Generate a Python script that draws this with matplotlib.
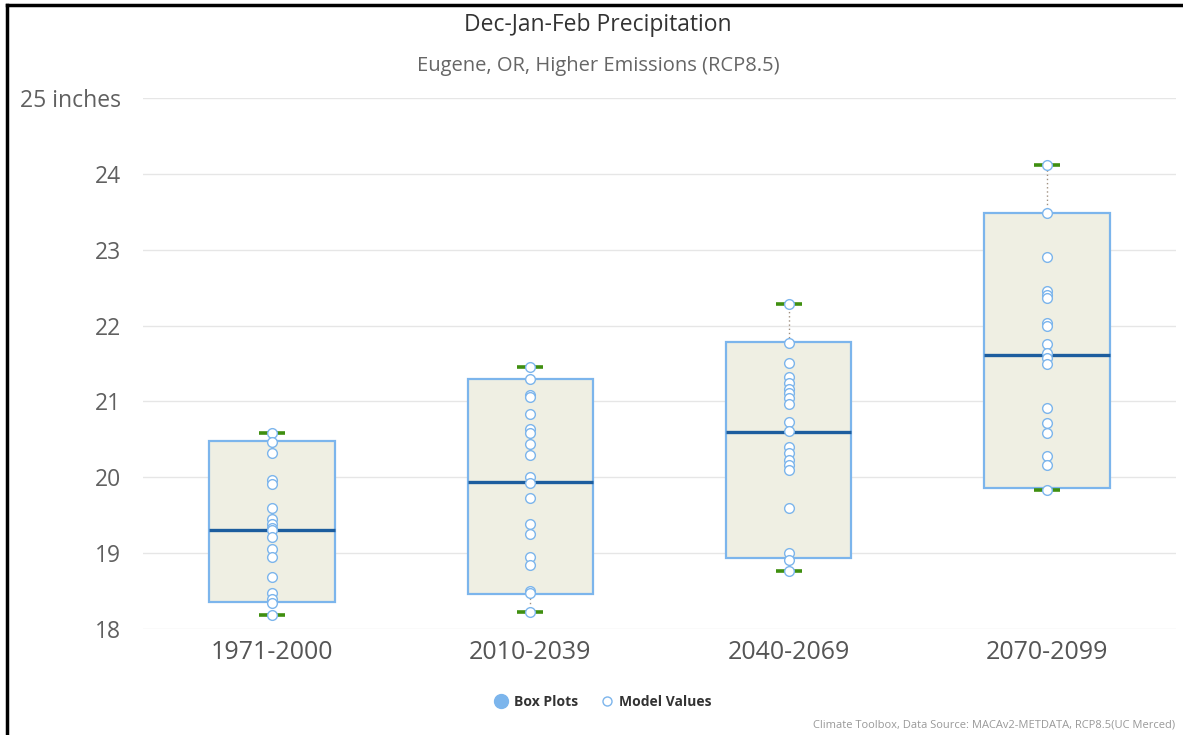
import matplotlib
matplotlib.use("Agg")
import matplotlib.pyplot as plt
from matplotlib.lines import Line2D

plt.rcParams['font.family'] = ['Open Sans', 'DejaVu Sans']

# data (inches)
periods = ['1971-2000', '2010-2039', '2040-2069', '2070-2099']
whisk_low = [18.18, 18.22, 18.76, 19.83]
box_low = [18.36, 18.46, 18.93, 19.86]
medians = [19.31, 19.94, 20.60, 21.61]
box_high = [20.48, 21.29, 21.78, 23.49]
whisk_high = [20.58, 21.45, 22.29, 24.12]

models_1971 = [20.58, 20.46, 20.32, 19.96, 19.91, 19.59, 19.45, 19.38, 19.33, 19.31,
               19.21, 19.06, 18.95, 18.69, 18.48, 18.40, 18.34, 18.18]
models_2010 = [21.45, 21.30, 21.09, 21.06, 20.84, 20.64, 20.58, 20.44, 20.29, 20.00,
               19.92, 19.73, 19.39, 19.25, 18.95, 18.85, 18.50, 18.47, 18.22]
models_2040 = [22.29, 21.77, 21.51, 21.32, 21.24, 21.16, 21.11, 21.04, 20.96, 20.73,
               20.61, 20.40, 20.32, 20.23, 20.16, 20.10, 19.60, 19.00, 18.91, 18.76]
models_2070 = [24.12, 23.49, 22.91, 22.45, 22.40, 22.36, 22.03, 22.00, 21.76, 21.64,
               21.57, 21.49, 20.91, 20.72, 20.59, 20.28, 20.16, 19.83]
model_values = [models_1971, models_2010, models_2040, models_2070]

yticks = [18, 19, 20, 21, 22, 23, 24, 25]
ytick_labels = ['18', '19', '20', '21', '22', '23', '24', '25 inches']

box_color = '#7cb5ec'

fig = plt.figure(figsize=(11.83, 7.35), dpi=100)
ax = fig.add_axes([143 / 1183, 1 - 629 / 735, (1176 - 143) / 1183, (629 - 98) / 735])

stats = []
for i in range(len(periods)):
    stats.append({'whislo': whisk_low[i], 'q1': box_low[i], 'med': medians[i],
                  'q3': box_high[i], 'whishi': whisk_high[i], 'fliers': []})

ax.bxp(stats, positions=range(len(periods)), widths=0.485, capwidths=0.1,
       patch_artist=True, showfliers=False,
       boxprops=dict(facecolor='#efefe3', edgecolor=box_color, linewidth=1.6),
       medianprops=dict(color='#1c5d9e', linewidth=2.4, solid_capstyle='butt'),
       whiskerprops=dict(color='#a09080', linewidth=1, linestyle=(0, (1, 2))),
       capprops=dict(color='#3f8f10', linewidth=2.6, solid_capstyle='butt'),
       zorder=2)

for i, vals in enumerate(model_values):
    ax.plot([i] * len(vals), vals, 'o', markersize=7, markerfacecolor='white',
            markeredgecolor=box_color, markeredgewidth=1, zorder=4, clip_on=False)

ax.set_xlim(-0.5, len(periods) - 0.5)
ax.set_ylim(18, 25)
ax.set_yticks(yticks)
ax.set_yticklabels(ytick_labels)
ax.set_xticks(range(len(periods)))
ax.set_xticklabels(periods)
ax.tick_params(axis='y', length=0, pad=16, labelsize=16.5, labelcolor='#606060')
ax.tick_params(axis='x', length=0, pad=8, labelsize=18, labelcolor='#555555')
ax.grid(axis='y', color='#e6e6e6', linewidth=1)
ax.set_axisbelow(True)
for s in ax.spines.values():
    s.set_visible(False)

fig.text(598 / 1183, 1 - 25 / 735, 'Dec-Jan-Feb Precipitation', ha='center', va='center',
         fontsize=16.5, color='#333333')
fig.text(598 / 1183, 1 - 66 / 735, 'Eugene, OR, Higher Emissions (RCP8.5)', ha='center',
         va='center', fontsize=14.5, color='#666666')
fig.text(1175 / 1183, 1 - 725 / 735,
         'Climate Toolbox, Data Source: MACAv2-METDATA, RCP8.5(UC Merced)',
         ha='right', va='center', fontsize=8, color='#999999')

handles = [Line2D([], [], marker='o', linestyle='none', markersize=10,
                  markerfacecolor=box_color, markeredgecolor=box_color),
           Line2D([], [], marker='o', linestyle='none', markersize=6.5,
                  markerfacecolor='white', markeredgecolor=box_color)]
fig.legend(handles, ['Box Plots', 'Model Values'], loc='center', ncol=2,
           bbox_to_anchor=(603 / 1183, 1 - 702 / 735), frameon=False,
           prop={'weight': 'bold', 'size': 10}, labelcolor='#333333',
           handletextpad=0.4, columnspacing=1.6, handlelength=1)

# black frame on the left and top edges
fig.add_artist(Line2D([7 / 1183, 7 / 1183], [0, 1 - 5 / 735], color='black', linewidth=2.5))
fig.add_artist(Line2D([7 / 1183, 1], [1 - 5 / 735, 1 - 5 / 735], color='black', linewidth=2.5))

fig.savefig('out.png', dpi=100)
